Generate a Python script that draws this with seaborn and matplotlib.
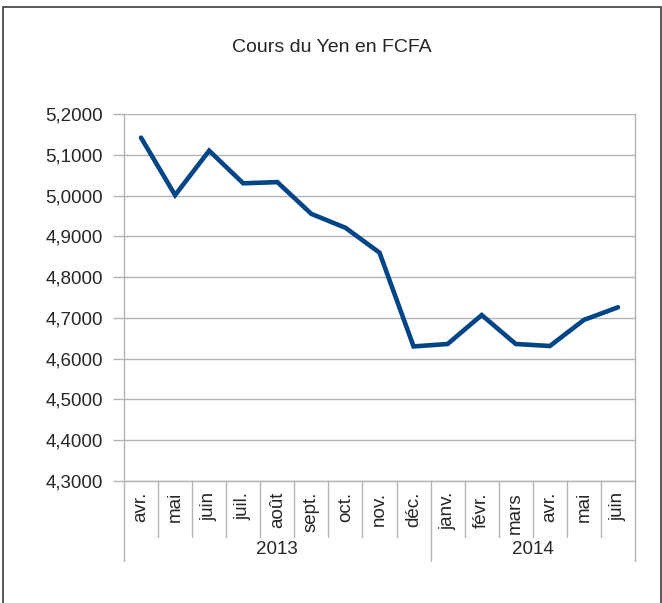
import matplotlib
matplotlib.use("Agg")
import matplotlib.pyplot as plt
import matplotlib.transforms as mtransforms
from matplotlib.ticker import FuncFormatter, MultipleLocator
import seaborn as sns
import pandas as pd

# données
mois = ['avr.', 'mai', 'juin', 'juil.', 'août', 'sept.', 'oct.', 'nov.', 'déc.',
        'janv.', 'févr.', 'mars', 'avr.', 'mai', 'juin']
annees = ['2013'] * 9 + ['2014'] * 6
cours = [5.142, 5.001, 5.110, 5.030, 5.033, 4.955, 4.921, 4.860, 4.630,
         4.636, 4.707, 4.636, 4.631, 4.695, 4.726]

sns.set_theme(style="white")
plt.rcParams['font.family'] = ['Liberation Sans', 'DejaVu Sans']
taille = 13.5

df = pd.DataFrame({'pos': range(len(mois)), 'mois': mois, 'annee': annees, 'cours': cours})

fig = plt.figure(figsize=(6.62, 6.03), dpi=100)
ax = fig.add_axes([124 / 662, 1 - 481 / 603, (635 - 124) / 662, (481 - 114) / 603])

# cadre extérieur
fig.patches.append(plt.Rectangle((3 / 662, -0.01), (661 - 3) / 662, 1 - 7 / 603 + 0.01,
                                 transform=fig.transFigure, fill=False,
                                 edgecolor='#3c3c3c', lw=1.2))

sns.lineplot(data=df, x='pos', y='cours', ax=ax, color='#004586', lw=3.3,
             solid_joinstyle='miter')

gris = '#b3b3b3'
ax.set_xlim(-0.5, len(mois) - 0.5)
ax.set_ylim(4.3, 5.2)
ax.yaxis.set_major_locator(MultipleLocator(0.1))
ax.yaxis.set_major_formatter(FuncFormatter(lambda v, p: f"{v:.4f}".replace('.', ',')))
ax.grid(axis='y', color=gris, lw=1)
for s in ax.spines.values():
    s.set_color(gris)
    s.set_linewidth(1)
ax.spines['top'].set_visible(False)

ax.set_xticks(df['pos'])
ax.set_xticklabels(mois, rotation=90, fontsize=taille)
ax.tick_params(axis='x', length=0, pad=8)
ax.tick_params(axis='y', length=8, width=1, color=gris, pad=7, labelsize=taille, left=True)
ax.set_xlabel('')
ax.set_ylabel('')

# séparateurs des catégories et des années
trans = mtransforms.blended_transform_factory(ax.transData, ax.transAxes)
bornes = [i - 0.5 for i in range(len(mois) + 1)]
for i, b in enumerate(bornes):
    debut_annee = i == 0 or i == len(mois) or annees[i] != annees[i - 1]
    bas = -0.218 if debut_annee else -0.152
    ax.plot([b, b], [0, bas], transform=trans, color=gris, lw=1, clip_on=False)

for an in dict.fromkeys(annees):
    xs = df.loc[df['annee'] == an, 'pos']
    ax.text(xs.mean(), -0.188, an, transform=trans, ha='center', va='center', fontsize=taille)

fig.text(332 / 662, 1 - 47 / 603, 'Cours du Yen en FCFA', ha='center', va='center', fontsize=14)

fig.savefig('out.png', dpi=100)
